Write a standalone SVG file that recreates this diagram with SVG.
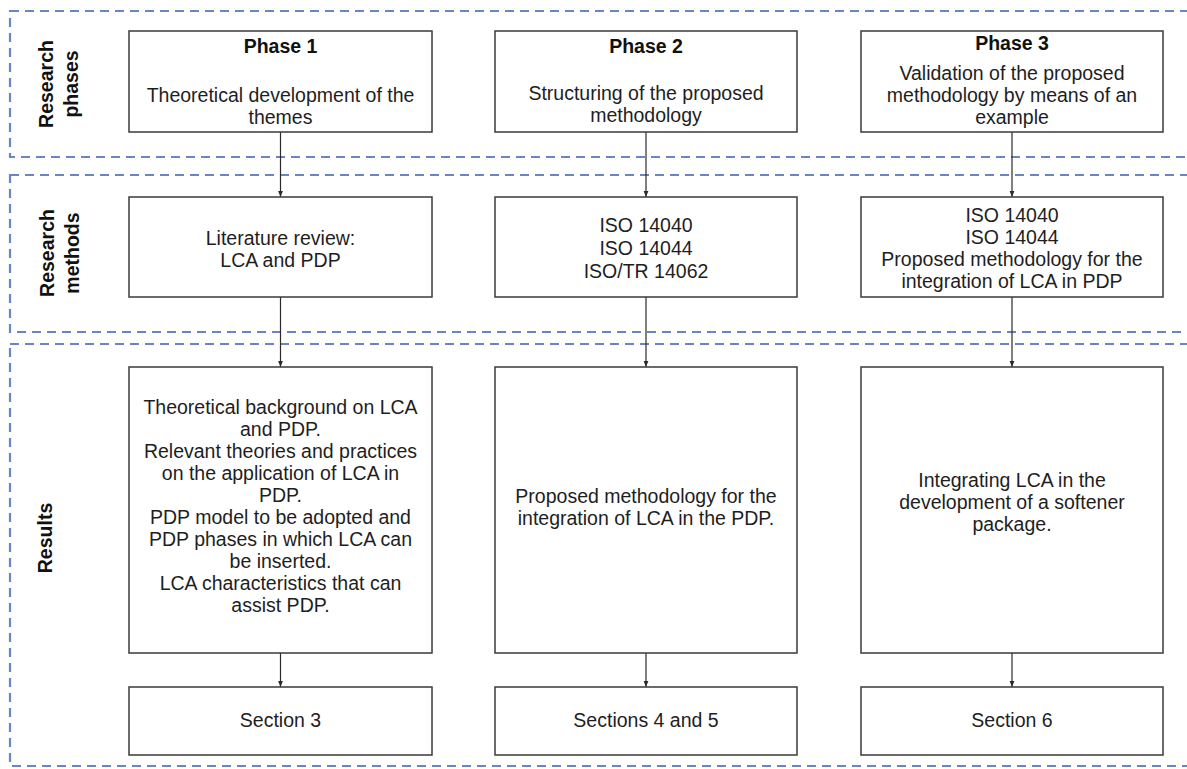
<svg xmlns="http://www.w3.org/2000/svg" width="1187" height="769" viewBox="0 0 1187 769">
  <style>
    .band { fill: none; stroke: #6a84c4; stroke-width: 2.2; stroke-dasharray: 9 6; }
    .box { fill: #ffffff; stroke: #3a3a3a; stroke-width: 1.5; }
    .txt { font-family: "Liberation Sans", Arial, sans-serif; font-size: 19.5px; fill: #1e1e1e; text-anchor: middle; }
    .ttl { font-family: "Liberation Sans", Arial, sans-serif; font-size: 19.5px; font-weight: bold; fill: #111111; text-anchor: middle; }
    .lbl { font-family: "Liberation Sans", Arial, sans-serif; font-size: 19.5px; font-weight: bold; fill: #111111; text-anchor: middle; }
    .link { fill: none; stroke: #2a2a2a; stroke-width: 1.2; marker-end: url(#arrow); }
  </style>
  <defs>
    <marker id="arrow" viewBox="0 0 10 10" refX="10" refY="5" markerWidth="6" markerHeight="8" markerUnits="userSpaceOnUse" orient="auto">
      <path d="M0,1 L10,5 L0,9 Z" fill="#2a2a2a"/>
    </marker>
  </defs>
  <rect width="1187" height="769" fill="#ffffff"/>

  <!-- swimlane bands (right edge runs past the page) -->
  <g id="bands">
    <rect class="band" x="10" y="11" width="1182" height="146"/>
    <rect class="band" x="10" y="175" width="1182" height="157"/>
    <rect class="band" x="10" y="344" width="1182" height="422"/>
  </g>

  <!-- lane labels -->
  <g id="lane-phases">
    <text class="lbl" transform="translate(53,84) rotate(-90)"><tspan x="0" y="0">Research</tspan><tspan x="0" y="25">phases</tspan></text>
  </g>
  <g id="lane-methods">
    <text class="lbl" transform="translate(54,253) rotate(-90)"><tspan x="0" y="0">Research</tspan><tspan x="0" y="25">methods</tspan></text>
  </g>
  <g id="lane-results">
    <text class="lbl" transform="translate(52,538) rotate(-90)">Results</text>
  </g>

  <!-- connectors -->
  <g id="connectors">
    <line class="link" x1="280.5" y1="132" x2="280.5" y2="197"/>
    <line class="link" x1="646" y1="132" x2="646" y2="197"/>
    <line class="link" x1="1012" y1="132" x2="1012" y2="197"/>
    <line class="link" x1="280.5" y1="297" x2="280.5" y2="367"/>
    <line class="link" x1="646" y1="297" x2="646" y2="367"/>
    <line class="link" x1="1012" y1="297" x2="1012" y2="367"/>
    <line class="link" x1="280.5" y1="653" x2="280.5" y2="687"/>
    <line class="link" x1="646" y1="653" x2="646" y2="687"/>
    <line class="link" x1="1012" y1="653" x2="1012" y2="687"/>
  </g>

  <!-- phase row -->
  <g id="phase1">
    <rect class="box" x="129" y="31" width="303" height="101"/>
    <text class="ttl" x="280.5" y="53">Phase 1</text>
    <text class="txt" x="280.5" y="102">Theoretical development of the</text>
    <text class="txt" x="280.5" y="124">themes</text>
  </g>
  <g id="phase2">
    <rect class="box" x="495" y="31" width="302" height="101"/>
    <text class="ttl" x="646" y="53">Phase 2</text>
    <text class="txt" x="646" y="100">Structuring of the proposed</text>
    <text class="txt" x="646" y="122">methodology</text>
  </g>
  <g id="phase3">
    <rect class="box" x="861" y="31" width="302" height="101"/>
    <text class="ttl" x="1012" y="50">Phase 3</text>
    <text class="txt" x="1012" y="80">Validation of the proposed</text>
    <text class="txt" x="1012" y="102">methodology by means of an</text>
    <text class="txt" x="1012" y="124">example</text>
  </g>

  <!-- methods row -->
  <g id="method1">
    <rect class="box" x="129" y="197" width="303" height="100"/>
    <text class="txt" x="280.5" y="245">Literature review:</text>
    <text class="txt" x="280.5" y="267">LCA and PDP</text>
  </g>
  <g id="method2">
    <rect class="box" x="495" y="197" width="302" height="100"/>
    <text class="txt" x="646" y="232">ISO 14040</text>
    <text class="txt" x="646" y="255">ISO 14044</text>
    <text class="txt" x="646" y="278">ISO/TR 14062</text>
  </g>
  <g id="method3">
    <rect class="box" x="861" y="197" width="302" height="100"/>
    <text class="txt" x="1012" y="222">ISO 14040</text>
    <text class="txt" x="1012" y="244">ISO 14044</text>
    <text class="txt" x="1012" y="266">Proposed methodology for the</text>
    <text class="txt" x="1012" y="288">integration of LCA in PDP</text>
  </g>

  <!-- results row -->
  <g id="result1">
    <rect class="box" x="129" y="367" width="303" height="286"/>
    <text class="txt" x="280.5" y="414">Theoretical background on LCA</text>
    <text class="txt" x="280.5" y="436">and PDP.</text>
    <text class="txt" x="280.5" y="458">Relevant theories and practices</text>
    <text class="txt" x="280.5" y="480">on the application of LCA in</text>
    <text class="txt" x="280.5" y="502">PDP.</text>
    <text class="txt" x="280.5" y="524">PDP model to be adopted and</text>
    <text class="txt" x="280.5" y="546">PDP phases in which LCA can</text>
    <text class="txt" x="280.5" y="568">be inserted.</text>
    <text class="txt" x="280.5" y="590">LCA characteristics that can</text>
    <text class="txt" x="280.5" y="612">assist PDP.</text>
  </g>
  <g id="result2">
    <rect class="box" x="495" y="367" width="302" height="286"/>
    <text class="txt" x="646" y="503">Proposed methodology for the</text>
    <text class="txt" x="646" y="525">integration of LCA in the PDP.</text>
  </g>
  <g id="result3">
    <rect class="box" x="861" y="367" width="302" height="286"/>
    <text class="txt" x="1012" y="487">Integrating LCA in the</text>
    <text class="txt" x="1012" y="509">development of a softener</text>
    <text class="txt" x="1012" y="531">package.</text>
  </g>

  <!-- output row -->
  <g id="output1">
    <rect class="box" x="129" y="687" width="303" height="68"/>
    <text class="txt" x="280.5" y="727">Section 3</text>
  </g>
  <g id="output2">
    <rect class="box" x="495" y="687" width="302" height="68"/>
    <text class="txt" x="646" y="727">Sections 4 and 5</text>
  </g>
  <g id="output3">
    <rect class="box" x="861" y="687" width="302" height="68"/>
    <text class="txt" x="1012" y="727">Section 6</text>
  </g>
</svg>
